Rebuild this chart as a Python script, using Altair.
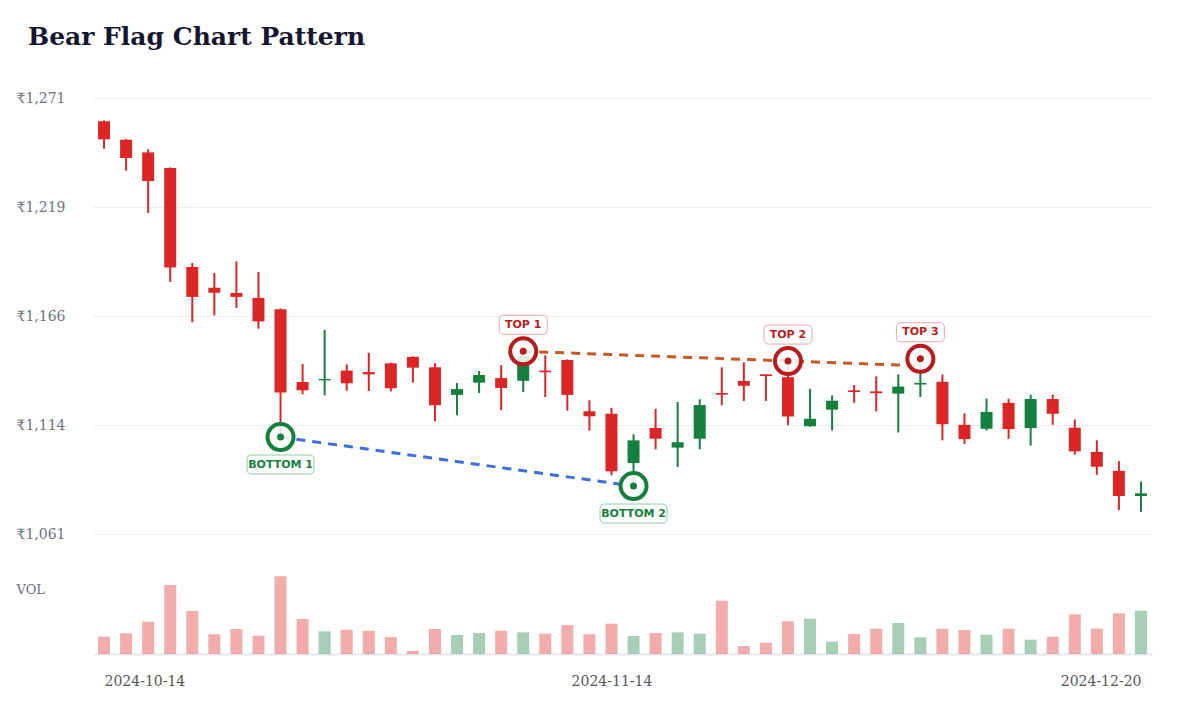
import json

import altair as alt
import numpy as np
import pandas as pd

# NSE trading days, 14 Oct - 20 Dec 2024 (15 and 20 Nov were market holidays)
days = pd.bdate_range("2024-10-14", "2024-12-20")
days = days[~days.isin(pd.to_datetime(["2024-11-15", "2024-11-20"]))]
dates = [d.strftime("%Y-%m-%d") for d in days]

opens = [1259.8, 1250.9, 1244.8, 1237.3, 1189.6, 1179.6, 1177.1, 1174.7, 1169.2, 1134.2,
         1135.0, 1139.7, 1139.0, 1143.2, 1146.3, 1141.3, 1128.0, 1133.9, 1136.1, 1134.8,
         1139.7, 1144.8, 1120.1, 1118.9, 1095.2, 1112.1, 1102.6, 1106.9, 1128.9, 1134.7,
         1137.9, 1136.5, 1112.9, 1120.9, 1130.2, 1129.7, 1128.6, 1133.0, 1134.3, 1113.6,
         1111.7, 1124.2, 1112.0, 1126.0, 1112.2, 1100.5, 1091.4, 1079.3]
highs = [1260.2, 1251.2, 1246.3, 1237.6, 1191.5, 1186.7, 1192.3, 1187.2, 1169.6, 1142.9,
         1159.3, 1142.7, 1148.3, 1143.5, 1146.6, 1143.2, 1133.7, 1139.5, 1142.3, 1149.0,
         1147.1, 1145.1, 1125.4, 1121.8, 1109.0, 1121.3, 1124.6, 1125.9, 1141.3, 1143.7,
         1137.9, 1144.3, 1130.9, 1127.7, 1132.8, 1136.9, 1137.8, 1145.4, 1137.8, 1119.1,
         1126.2, 1126.2, 1128.1, 1128.1, 1116.2, 1106.1, 1096.1, 1086.3]
lows = [1246.6, 1236.0, 1215.6, 1182.4, 1163.0, 1166.3, 1169.9, 1159.9, 1107.7, 1128.3,
        1127.8, 1130.0, 1129.9, 1129.7, 1133.9, 1115.3, 1118.2, 1128.9, 1120.7, 1129.4,
        1127.0, 1120.4, 1110.8, 1089.3, 1084.1, 1101.8, 1093.3, 1101.8, 1123.0, 1125.1,
        1125.1, 1113.4, 1112.7, 1110.9, 1124.2, 1120.0, 1109.9, 1127.0, 1106.1, 1104.4,
        1110.9, 1106.8, 1103.6, 1113.6, 1099.2, 1089.5, 1072.5, 1071.7]
closes = [1251.1, 1242.1, 1231.0, 1189.3, 1175.2, 1177.2, 1175.2, 1163.4, 1129.1, 1130.2,
          1135.7, 1133.6, 1137.9, 1131.2, 1141.1, 1123.0, 1130.8, 1137.6, 1131.3, 1146.7,
          1138.9, 1128.0, 1117.7, 1091.2, 1106.1, 1106.9, 1105.2, 1123.1, 1128.1, 1132.4,
          1137.1, 1117.6, 1116.5, 1125.2, 1129.4, 1128.8, 1132.0, 1133.8, 1113.9, 1106.7,
          1119.8, 1111.5, 1126.0, 1118.9, 1100.8, 1093.4, 1079.3, 1080.6]
# volume, millions of shares
volumes = [1.73, 2.07, 3.23, 6.90, 4.30, 1.97, 2.50, 1.83, 7.77, 3.50,
           2.27, 2.43, 2.33, 1.70, 0.30, 2.50, 1.90, 2.10, 2.33, 2.17,
           2.03, 2.90, 1.97, 3.03, 1.80, 2.10, 2.17, 2.03, 5.33, 0.80,
           1.13, 3.27, 3.53, 1.23, 2.00, 2.53, 3.10, 1.67, 2.53, 2.40,
           1.93, 2.53, 1.43, 1.73, 3.97, 2.53, 4.07, 4.33]

top_idx = [19, 31, 37]
top_labels = ["TOP 1", "TOP 2", "TOP 3"]
bottom_idx = [8, 24]
bottom_labels = ["BOTTOM 1", "BOTTOM 2"]

# flag boundaries: upper line through TOP 1 and TOP 2, run out to TOP 3
upper_idx = [19, 37]
upper_price = [1149.0, 1142.0]
lower_idx = [8, 24]
lower_price = [1107.7, 1084.1]

RED = "#dc2626"
GREEN = "#15803d"
RING_RED = "#b91c1c"
last = len(dates) - 1

df = pd.DataFrame({
    "i": range(len(dates)), "date": dates, "open": opens, "high": highs,
    "low": lows, "close": closes, "vol": volumes,
})
df["dir"] = np.where(df["close"] >= df["open"], "up", "down")

tops = pd.DataFrame({"i": top_idx, "label": top_labels,
                     "price": [highs[k] for k in top_idx]})
bottoms = pd.DataFrame({"i": bottom_idx, "label": bottom_labels,
                        "price": [lows[k] for k in bottom_idx]})
upper = pd.DataFrame({"i": upper_idx, "price": upper_price})
lower = pd.DataFrame({"i": lower_idx, "price": lower_price})

x_scale = alt.Scale(domain=[-0.5, last + 0.5], nice=False, zero=False, padding=0)
y_scale = alt.Scale(domain=[1061, 1271], nice=False, zero=False)
y_axis = alt.Axis(
    values=[1061, 1113.5, 1166, 1218.5, 1271],
    labelExpr="'₹' + format(datum.value, ',.0f')",
    title=None, domain=False, ticks=False, grid=True, gridColor="#eeeeee",
    labelAlign="left", labelPadding=77, labelColor="#6b7280", labelFontSize=14,
    labelFont="DejaVu Serif",
)
dir_color = alt.Color("dir:N", scale=alt.Scale(domain=["up", "down"], range=[GREEN, RED]),
                      legend=None)


def xpos():
    return alt.X("i:Q", scale=x_scale, axis=None)


def ypos(field):
    return alt.Y(f"{field}:Q", scale=y_scale, axis=y_axis)


lower_line = alt.Chart(lower).mark_line(
    color="#3d6fd9", strokeWidth=3, strokeDash=[9, 7]
).encode(x=xpos(), y=ypos("price"))

upper_line = alt.Chart(upper).mark_line(
    color="#c55a26", strokeWidth=3, strokeDash=[9, 7]
).encode(x=xpos(), y=ypos("price"))

wicks = alt.Chart(df).mark_rule(strokeWidth=2).encode(
    x=xpos(), y=ypos("low"), y2="high:Q", color=dir_color
)

bodies = alt.Chart(df).mark_bar(width=12).encode(
    x=xpos(), y=ypos("open"), y2="close:Q", color=dir_color,
    tooltip=["date:N", "open:Q", "high:Q", "low:Q", "close:Q"],
)


def markers(points, ring, box_stroke, box_width, dy):
    base = alt.Chart(points).encode(x=xpos(), y=ypos("price"))
    ring_mark = base.mark_point(
        shape="circle", size=676, filled=True, fill="white", fillOpacity=0.85,
        stroke=ring, strokeWidth=4, strokeOpacity=1, opacity=1,
    )
    dot = base.mark_point(shape="circle", size=49, filled=True, color=ring, opacity=1)
    box = base.mark_rect(
        fill="white", stroke=box_stroke, strokeWidth=1, cornerRadius=4,
        xOffset=-box_width / 2, x2Offset=box_width / 2,
        yOffset=dy - 9.5, y2Offset=dy + 9.5,
    ).encode(x2="i:Q", y2="price:Q")
    text = base.mark_text(
        font="DejaVu Sans", fontWeight="bold", fontSize=11, color=ring, dy=dy,
        baseline="middle",
    ).encode(text="label:N")
    return [ring_mark, dot, box, text]


price_panel = alt.layer(
    lower_line, upper_line, wicks, bodies,
    *markers(tops, RING_RED, "#e8a7a7", 48, -26.5),
    *markers(bottoms, GREEN, "#93c9a5", 67, 27.5),
).properties(width=1059, height=436)

volume_panel = alt.Chart(df).mark_bar(width=12, opacity=0.38).encode(
    x=alt.X("i:Q", scale=x_scale, axis=alt.Axis(
        values=[0, 23, last],
        labelExpr=json.dumps(dates) + "[datum.value]",
        labelFlush=False,
        labelAlign={
            "condition": [
                {"test": "datum.value == 0", "value": "left"},
                {"test": f"datum.value == {last}", "value": "right"},
            ],
            "value": "center",
        },
        title=None, grid=False, ticks=False,
        domainColor="#e5e7eb", domainWidth=2, labelPadding=20,
        labelColor="#555555", labelFontSize=14, labelFont="DejaVu Serif",
    )),
    y=alt.Y("vol:Q", scale=alt.Scale(domain=[0, 8.2], nice=False), axis=alt.Axis(
        title="VOL", titleAngle=0, titleAlign="left", titleBaseline="middle",
        titleX=-77, titleY=17, titleFont="DejaVu Serif", titleFontWeight="normal",
        titleFontSize=13, titleColor="#6b7280",
        labels=False, ticks=False, domain=False, grid=False,
    )),
    color=dir_color,
    tooltip=["date:N", alt.Tooltip("vol:Q", title="Volume (M)")],
).properties(width=1059, height=82)

chart = (
    alt.vconcat(price_panel, volume_panel, spacing=38, bounds="flush")
    .properties(
        title=alt.TitleParams(
            "Bear Flag Chart Pattern", anchor="start", frame="bounds", dx=12,
            font="DejaVu Serif", fontSize=25, fontWeight="bold", color="#161630",
            offset=41,
        ),
        padding={"left": 8, "top": 17, "right": 16, "bottom": 8},
        background="white",
    )
    .configure_view(stroke=None)
)

chart.save("out.html", embed_options={"renderer": "svg", "actions": False})
